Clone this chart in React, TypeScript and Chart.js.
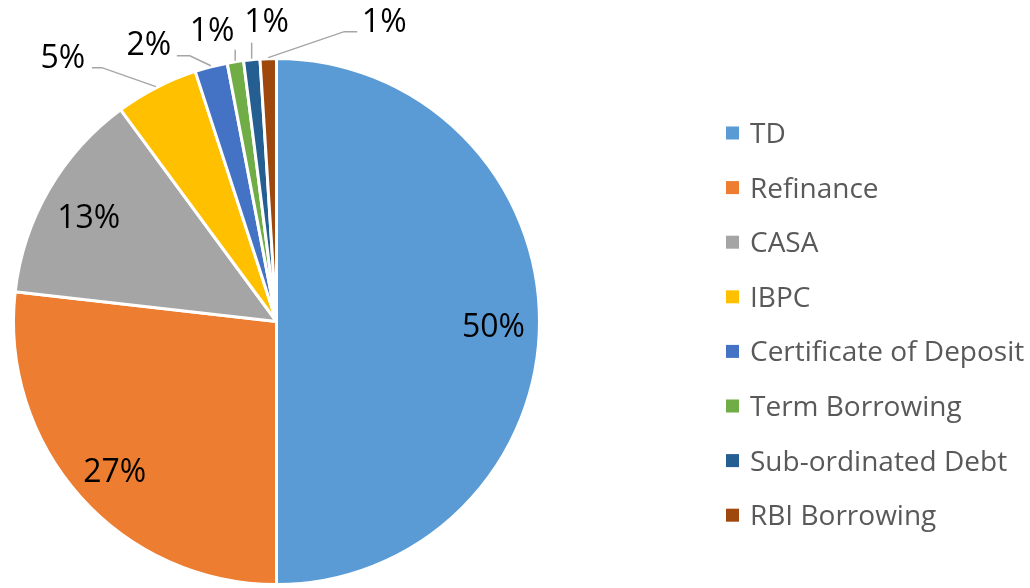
import React, { useEffect, useRef } from "react";
import { Chart, registerables } from "chart.js";

Chart.register(...registerables);

const categories = [
  "TD",
  "Refinance",
  "CASA",
  "IBPC",
  "Certificate of Deposit",
  "Term Borrowing",
  "Sub-ordinated Debt",
  "RBI Borrowing",
];
const shares = [50, 26.8, 13.1, 5.1, 2.0, 1.0, 1.0, 1.0];
const colors = [
  "#5B9BD5",
  "#ED7D31",
  "#A5A5A5",
  "#FFC000",
  "#4472C4",
  "#70AD47",
  "#255E91",
  "#9E480E",
];

// label layout: inside labels for first three slices, outside with leader lines for the rest
// offsets relative to the point on the outer edge at the slice's mid-angle
type Outside = { text: [number, number]; line: [number, number][] };
const outsideLayout: (Outside | null)[] = [
  null,
  null,
  null,
  { text: [-93, -30], line: [[-54, -19], [-64, -19]] },
  { text: [-62, -22], line: [[-21, -10], [-34, -10]] },
  { text: [-23, -31], line: [[0, -11]] },
  { text: [15, -38], line: [[0, -16]] },
  { text: [116, -37], line: [[76, -26], [89, -26]] },
];

const FONT = "'Open Sans', Lato, sans-serif";

const labelPlugin = {
  id: "pieLabels",
  afterDatasetsDraw(chart: any) {
    const ctx = chart.ctx;
    const meta = chart.getDatasetMeta(0);
    const data = chart.data.datasets[0].data as number[];
    ctx.save();
    ctx.font = `32px ${FONT}`;
    ctx.fillStyle = "#000000";
    ctx.textAlign = "center";
    ctx.textBaseline = "alphabetic";
    const capHalf = 11.5;
    meta.data.forEach((arc: any, i: number) => {
      const { x, y, startAngle, endAngle, outerRadius } = arc.getProps(
        ["x", "y", "startAngle", "endAngle", "outerRadius"],
        true
      );
      const mid = (startAngle + endAngle) / 2;
      const text = `${Math.round(data[i])}%`;
      const lay = outsideLayout[i];
      if (!lay) {
        const d = outerRadius * 0.825;
        const tx = x + Math.cos(mid) * d;
        const ty = y + Math.sin(mid) * d + 4;
        ctx.fillText(text, tx, ty + capHalf);
      } else {
        const ex = x + Math.cos(mid) * (outerRadius + 1);
        const ey = y + Math.sin(mid) * (outerRadius + 1);
        ctx.beginPath();
        ctx.strokeStyle = "#A6A6A6";
        ctx.lineWidth = 1.5;
        ctx.moveTo(ex, ey);
        lay.line.forEach(([dx, dy]) => ctx.lineTo(ex + dx, ey + dy));
        ctx.stroke();
        ctx.fillText(text, ex + lay.text[0], ey + lay.text[1] + capHalf);
      }
    });
    ctx.restore();
  },
};

const legendPlugin = {
  id: "sideLegend",
  afterDraw(chart: any) {
    const ctx = chart.ctx;
    const labels = chart.data.labels as string[];
    const bg = chart.data.datasets[0].backgroundColor as string[];
    const boxX = 726;
    const textX = 750;
    const firstY = 133;
    const step = 54.6;
    ctx.save();
    ctx.font = `28px ${FONT}`;
    ctx.textAlign = "left";
    ctx.textBaseline = "alphabetic";
    labels.forEach((lab, i) => {
      const cy = firstY + i * step;
      ctx.fillStyle = bg[i];
      ctx.fillRect(boxX, cy - 6.5, 13, 13);
      ctx.fillStyle = "#595959";
      ctx.fillText(lab, textX, cy + 10);
    });
    ctx.restore();
  },
};

export default function App() {
  const ref = useRef<HTMLCanvasElement | null>(null);
  useEffect(() => {
    document.body.style.margin = "0";
    if (!ref.current) return;
    const chart = new Chart(ref.current, {
      type: "pie",
      data: {
        labels: categories,
        datasets: [
          {
            data: shares,
            backgroundColor: colors,
            borderColor: "#FFFFFF",
            borderWidth: 3,
          },
        ],
      },
      options: {
        animation: false,
        responsive: false,
        maintainAspectRatio: false,
        devicePixelRatio: 1,
        layout: { padding: { left: 12, top: 57, right: 489, bottom: 2 } },
        plugins: {
          legend: { display: false },
          tooltip: { enabled: false },
          title: { display: false },
        },
      },
      plugins: [labelPlugin, legendPlugin],
    });
    return () => chart.destroy();
  }, []);
  return (
    <div style={{ width: 1030, height: 588, background: "#FFFFFF" }}>
      <canvas ref={ref} width={1030} height={588} style={{ display: "block" }} />
    </div>
  );
}
